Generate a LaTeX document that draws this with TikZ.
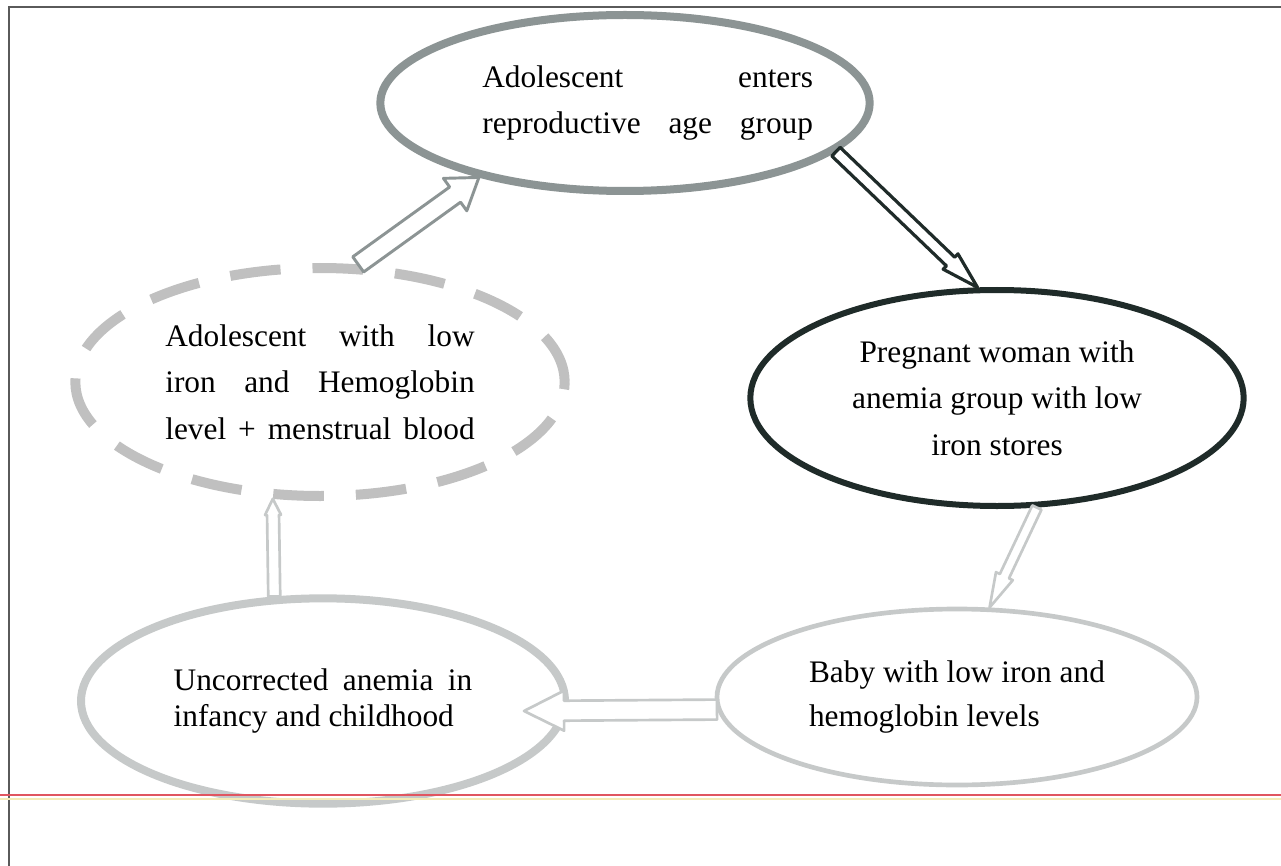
\documentclass[tikz,border=0pt]{standalone}
\usepackage{fontspec}
\setmainfont{Liberation Serif}
\usetikzlibrary{shapes.geometric,calc}
\definecolor{ringgray}{HTML}{8C9494}
\definecolor{dashgray}{HTML}{C0C0C0}
\definecolor{darkring}{HTML}{1F2B29}
\definecolor{palegray}{HTML}{C6C9C9}
\definecolor{rulered}{HTML}{E05660}
\definecolor{ruleyellow}{HTML}{F4EBB8}
\definecolor{framegray}{HTML}{5A5A5A}

% hollow block arrow: [style]{from}{to}{half shaft}{half head}{head length}
\newcommand{\hollowarrow}[6][]{%
  \coordinate (ha-c) at ($(#3)!#6!(#2)$);
  \draw[fill=white, line join=round, #1] ($(#2)!#4!90:(#3)$) -- ($(ha-c)!#4!90:(#3)$)
    -- ($(ha-c)!#5!90:(#3)$) -- (#3) -- ($(ha-c)!#5!-90:(#3)$)
    -- ($(ha-c)!#4!-90:(#3)$) -- ($(#2)!#4!-90:(#3)$) -- cycle;}

\tikzset{
  ring/.style={ellipse, inner sep=0pt, fill=white,
    font=\fontsize{23.5}{35}\selectfont},
  topring/.style={ring, draw=ringgray, line width=6pt},
  dashring/.style={ring, draw=dashgray, line width=7.5pt, dash pattern=on 38pt off 24pt},
  darkringstyle/.style={ring, draw=darkring, line width=4.5pt},
  paleringthin/.style={ring, draw=palegray, line width=3.5pt},
  paleringthick/.style={ring, draw=palegray, line width=6pt}
}

\begin{document}
\begin{tikzpicture}[x=0.75pt,y=-0.75pt]
  \useasboundingbox (0,0) rectangle (1281,866);
  \draw[framegray, line width=1.1pt] (9,866) -- (9,7) -- (1281,7);

  \node[topring, minimum width=367pt, minimum height=132pt, align=left] (enter) at (625,103)
    {\makebox[248pt][l]{\hspace{17pt}\makebox[248pt][s]{Adolescent enters}}\\
     \makebox[248pt][l]{\hspace{17pt}\makebox[248pt][s]{reproductive age group}}};
  \node[dashring, minimum width=367pt, minimum height=171pt, align=left] (lowiron) at (320,382)
    {\makebox[232pt][s]{Adolescent with low}\\ \makebox[232pt][s]{iron and Hemoglobin}\\
     \makebox[232pt][s]{level + menstrual blood}};
  \node[darkringstyle, minimum width=370pt, minimum height=162pt, align=center] (pregnant) at (997,398)
    {Pregnant woman with\\ anemia group with low\\ iron stores};
  \node[paleringthin, minimum width=360pt, minimum height=132pt, align=left,
    font=\fontsize{23.5}{33}\selectfont] (baby) at (957,697)
    {Baby with low iron and\\ hemoglobin levels};
  \node[paleringthick, minimum width=363pt, minimum height=154pt, align=left,
    font=\fontsize{23.5}{27}\selectfont] (uncorr) at (323,701)
    {\makebox[224pt][s]{Uncorrected anemia in}\\ infancy and childhood};

  % arrows round the cycle
  \coordinate (dtip) at ($(uncorr.east)+(-45,10)$);
  \hollowarrow[draw=ringgray, line width=2.2pt]{lowiron.72}{enter.207}{7pt}{15pt}{22pt}
  \hollowarrow[draw=darkring, line width=2.4pt]{enter.-13}{pregnant.100}{4.5pt}{8pt}{28pt}
  \hollowarrow[draw=palegray, line width=2pt]{pregnant.-70}{baby.70}{3.8pt}{7pt}{26pt}
  \hollowarrow[draw=palegray, line width=2pt]{baby.183}{dtip}{7.5pt}{15pt}{30pt}
  \hollowarrow[draw=palegray, line width=2pt]{uncorr.115}{lowiron.248}{4.5pt}{6pt}{12pt}

  \draw[rulered, line width=1.5pt] (0,795) -- (1281,795);
  \draw[ruleyellow, line width=1.5pt] (0,799) -- (1281,799);
\end{tikzpicture}
\end{document}
